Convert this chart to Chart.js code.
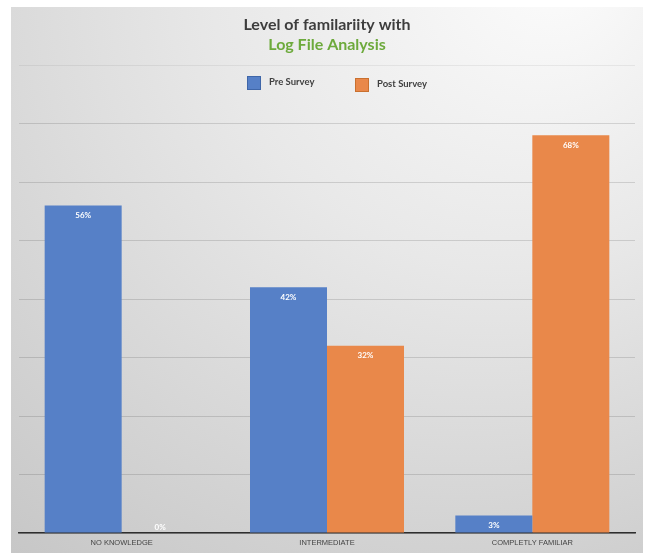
<!DOCTYPE html>
<html>
<head>
<meta charset="utf-8">
<script src="https://cdn.jsdelivr.net/npm/chart.js@4.4.1/dist/chart.umd.min.js"></script>
<style>
html,body{margin:0;padding:0;background:#fff;}
#wrap{width:646px;height:553px;position:relative;}
</style>
</head>
<body>
<div id="wrap"><canvas id="c" width="646" height="553"></canvas></div>
<script>
const categories = ["NO KNOWLEDGE", "INTERMEDIATE", "COMPLETLY FAMILIAR"];
const preSurvey = [56, 42, 3];
const postSurvey = [0, 32, 68];
const seriesNames = ["Pre Survey", "Post Survey"];
const titleLine1 = "Level of familariity with";
const titleLine2 = "Log File Analysis";

const BLUE = "#5680C7";
const ORANGE = "#E9884A";

const bgPlugin = {
  id: "bg",
  beforeDraw(chart) {
    const ctx = chart.ctx;
    ctx.save();
    const g = ctx.createRadialGradient(560, -40, 20, 420, 0, 700);
    g.addColorStop(0, "#fbfbfb");
    g.addColorStop(0.4, "#e8e8e8");
    g.addColorStop(1, "#c6c6c6");
    ctx.fillStyle = g;
    ctx.fillRect(11, 7, 632, 546);
    ctx.restore();
  }
};

const textPlugin = {
  id: "texts",
  afterDraw(chart) {
    const ctx = chart.ctx;
    ctx.save();
    ctx.textAlign = "center";
    ctx.textBaseline = "middle";
    ctx.font = "bold 16px Lato, 'Open Sans', sans-serif";
    ctx.fillStyle = "#3d3d3d";
    ctx.fillText(titleLine1, 327, 25);
    ctx.fillStyle = "#6DAA3C";
    ctx.fillText(titleLine2, 327, 45);
    // legend
    const items = [
      {x: 247, y: 76, color: BLUE, border: "#3f66a8", label: seriesNames[0]},
      {x: 355, y: 78, color: ORANGE, border: "#c9702f", label: seriesNames[1]}
    ];
    ctx.textAlign = "left";
    ctx.font = "bold 9.5px Lato, 'Open Sans', sans-serif";
    items.forEach(it => {
      ctx.fillStyle = it.color;
      ctx.fillRect(it.x, it.y, 14, 14);
      ctx.strokeStyle = it.border;
      ctx.lineWidth = 1;
      ctx.strokeRect(it.x + 0.5, it.y + 0.5, 13, 13);
      ctx.fillStyle = "#404040";
      ctx.fillText(it.label, it.x + 22, it.y + 6);
    });
    ctx.restore();
  },
  afterDatasetsDraw(chart) {
    const ctx = chart.ctx;
    const base = chart.scales.y.getPixelForValue(0);
    ctx.save();
    ctx.textAlign = "center";
    ctx.textBaseline = "middle";
    ctx.font = "bold 8px Lato, 'Open Sans', sans-serif";
    ctx.fillStyle = "#ffffff";
    chart.data.datasets.forEach((ds, i) => {
      const meta = chart.getDatasetMeta(i);
      meta.data.forEach((bar, j) => {
        let y = bar.y + 10;
        if (y > base - 6) y = base - 6;
        ctx.fillText(ds.data[j] + "%", bar.x, y);
      });
    });
    ctx.restore();
  }
};

new Chart(document.getElementById("c"), {
  type: "bar",
  data: {
    labels: categories,
    datasets: [
      {label: seriesNames[0], data: preSurvey, backgroundColor: BLUE, categoryPercentage: 0.75, barPercentage: 1.0},
      {label: seriesNames[1], data: postSurvey, backgroundColor: ORANGE, categoryPercentage: 0.75, barPercentage: 1.0}
    ]
  },
  options: {
    responsive: false,
    animation: false,
    devicePixelRatio: 1,
    layout: {padding: {left: 19, right: 11, top: 65, bottom: 0}},
    plugins: {legend: {display: false}, title: {display: false}, tooltip: {enabled: false}},
    scales: {
      x: {
        afterFit(scale) { scale.height = 20; },
        grid: {display: false, drawTicks: false},
        border: {display: true, color: "#2e2e2e", width: 1.5},
        ticks: {color: "#444444", padding: 5, font: {family: "'Liberation Sans Narrow', 'Liberation Sans', sans-serif", size: 7.5}}
      },
      y: {
        min: 0, max: 80,
        ticks: {display: false, stepSize: 10},
        border: {display: false},
        grid: {drawTicks: false, color: (c) => c.tick && c.tick.value === 80 ? "rgba(0,0,0,0.06)" : "rgba(0,0,0,0.13)", lineWidth: 1}
      }
    }
  },
  plugins: [bgPlugin, textPlugin]
});
</script>
</body>
</html>
